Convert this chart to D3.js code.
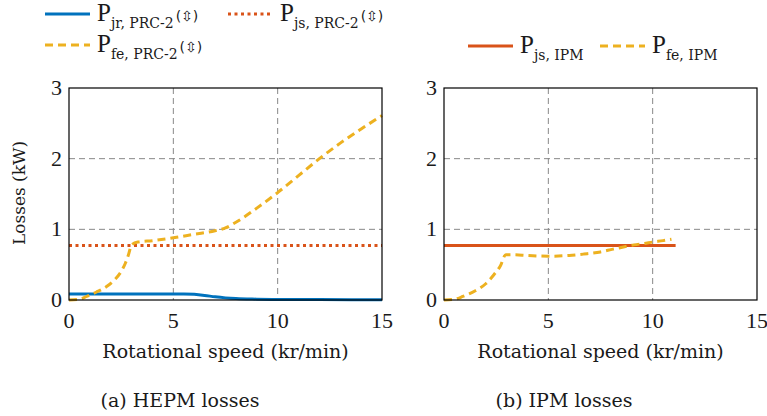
<!DOCTYPE html>
<html>
<head>
<meta charset="UTF-8">
<script src="https://cdn.jsdelivr.net/npm/d3@7"></script>
<style>
  body { margin: 0; background: #fff; }
  svg text { font-family: "Liberation Serif", serif; fill: #1a1a1a; }
  svg text.wide { font-family: "DejaVu Serif", serif; }
</style>
</head>
<body>
<div id="chart"></div>
<script>
// speed (kr/min) and losses (kW)
var speedJr = [0, 1, 2, 3, 4, 5, 5.5, 6, 6.5, 7, 7.5, 8, 9, 10, 12, 15];
var hepmJr  = [0.085, 0.085, 0.085, 0.085, 0.085, 0.085, 0.085, 0.08, 0.065, 0.045, 0.03, 0.02, 0.012, 0.008, 0.006, 0.005];
var speedJsH = [0, 15];
var hepmJs  = [0.77, 0.77];
var speedFeH = [0, 0.5, 0.85, 1.3, 1.8, 2.2, 2.45, 2.7, 2.85, 3.0, 3.3, 4, 5, 6, 7, 7.5, 8, 9, 10, 11, 12, 13, 14, 15];
var hepmFe  = [0, 0.01, 0.05, 0.11, 0.19, 0.29, 0.38, 0.52, 0.64, 0.78, 0.82, 0.84, 0.88, 0.93, 0.98, 1.02, 1.1, 1.3, 1.52, 1.76, 2.0, 2.22, 2.42, 2.61];
var speedJsI = [0, 11.1];
var ipmJs   = [0.77, 0.77];
var speedFeI = [0, 0.5, 0.9, 1.5, 2.0, 2.4, 2.7, 2.96, 3.3, 4, 5, 6, 6.7, 7.5, 8.1, 8.6, 9.1, 9.6, 10, 10.5, 10.9];
var ipmFe   = [0, 0.01, 0.05, 0.13, 0.23, 0.36, 0.48, 0.64, 0.64, 0.63, 0.62, 0.63, 0.65, 0.68, 0.72, 0.75, 0.78, 0.8, 0.82, 0.84, 0.86];
var xTicks = [0, 5, 10, 15];
var yTicks = [0, 1, 2, 3];

var blue = "#0072BD", red = "#D95319", yellow = "#EDB120";

var W = 767, H = 416;
var svg = d3.select("#chart").append("svg").attr("width", W).attr("height", H);

var top0 = 88, bottom0 = 300;
var panels = [
  { left: 69, right: 382, caption: "(a) HEPM losses", capX: 180, ylabel: true,
    series: [
      { x: speedJr, y: hepmJr, color: blue, dash: null },
      { x: speedJsH, y: hepmJs, color: red, dash: "3,3.5" },
      { x: speedFeH, y: hepmFe, color: yellow, dash: "8,5" }
    ] },
  { left: 444, right: 757, caption: "(b) IPM losses", capX: 564, ylabel: false,
    series: [
      { x: speedJsI, y: ipmJs, color: red, dash: null },
      { x: speedFeI, y: ipmFe, color: yellow, dash: "8,5" }
    ] }
];

panels.forEach(function(p) {
  var x = d3.scaleLinear().domain([0, 15]).range([p.left, p.right]);
  var y = d3.scaleLinear().domain([0, 3]).range([bottom0, top0]);
  var g = svg.append("g");

  // grid
  g.selectAll(".gx").data(xTicks.slice(1, -1)).enter().append("line")
    .attr("x1", function(d) { return x(d); }).attr("x2", function(d) { return x(d); })
    .attr("y1", top0).attr("y2", bottom0)
    .attr("stroke", "#888").attr("stroke-width", 1).attr("stroke-dasharray", "6,4");
  g.selectAll(".gy").data(yTicks.slice(1, -1)).enter().append("line")
    .attr("y1", function(d) { return y(d); }).attr("y2", function(d) { return y(d); })
    .attr("x1", p.left).attr("x2", p.right)
    .attr("stroke", "#888").attr("stroke-width", 1).attr("stroke-dasharray", "6,4");

  // series
  p.series.forEach(function(s) {
    var pts = s.x.map(function(v, i) { return [v, s.y[i]]; });
    var line = d3.line().x(function(d) { return x(d[0]); }).y(function(d) { return y(d[1]); })
      .curve(d3.curveMonotoneX);
    g.append("path").datum(pts).attr("d", line)
      .attr("fill", "none").attr("stroke", s.color).attr("stroke-width", 3)
      .attr("stroke-dasharray", s.dash);
  });

  // frame
  g.append("rect").attr("x", p.left).attr("y", top0)
    .attr("width", p.right - p.left).attr("height", bottom0 - top0)
    .attr("fill", "none").attr("stroke", "#000").attr("stroke-width", 1.2);

  // tick labels
  g.selectAll(".tx").data(xTicks).enter().append("text")
    .attr("x", function(d) { return x(d); }).attr("y", bottom0 + 28)
    .attr("text-anchor", "middle").style("font-size", "22px").text(function(d) { return d; });
  g.selectAll(".ty").data(yTicks).enter().append("text")
    .attr("x", p.left - 7).attr("y", function(d) { return y(d) + 7; })
    .attr("text-anchor", "end").style("font-size", "22px").text(function(d) { return d; });

  g.append("text").attr("class", "wide").attr("x", (p.left + p.right) / 2).attr("y", 358)
    .attr("text-anchor", "middle").style("font-size", "19px").text("Rotational speed (kr/min)");
  g.append("text").attr("class", "wide").attr("x", p.capX).attr("y", 407)
    .attr("text-anchor", "middle").style("font-size", "19px").text(p.caption);

  if (p.ylabel) {
    g.append("text").attr("class", "wide")
      .attr("transform", "translate(25," + ((top0 + bottom0) / 2 - 1) + ") rotate(-90)")
      .attr("text-anchor", "middle").style("font-size", "17px").text("Losses (kW)");
  }
});

// legends
function legendItem(x0, yy, color, dash, sub, sup) {
  svg.append("line").attr("x1", x0).attr("x2", x0 + 45).attr("y1", yy).attr("y2", yy)
    .attr("stroke", color).attr("stroke-width", 3).attr("stroke-dasharray", dash);
  var t = svg.append("text").attr("x", x0 + 52).attr("y", yy + 7).style("font-size", "25px");
  t.append("tspan").text("P");
  t.append("tspan").attr("class", "wide").attr("dy", 7)
    .style("font-family", "DejaVu Serif").style("font-size", "14px").text(sub);
  if (sup) t.append("tspan").attr("dy", -7).attr("dx", 2)
    .style("font-family", "DejaVu Sans").style("font-size", "14px").text(sup);
}
legendItem(45, 14, blue, null, "jr, PRC-2", "(⇳)");
legendItem(228, 14, red, "3,3.5", "js, PRC-2", "(⇳)");
legendItem(45, 45, yellow, "8,5", "fe, PRC-2", "(⇳)");
legendItem(468, 46, red, null, "js, IPM", null);
legendItem(600, 46, yellow, "8,5", "fe, IPM", null);
</script>
</body>
</html>
